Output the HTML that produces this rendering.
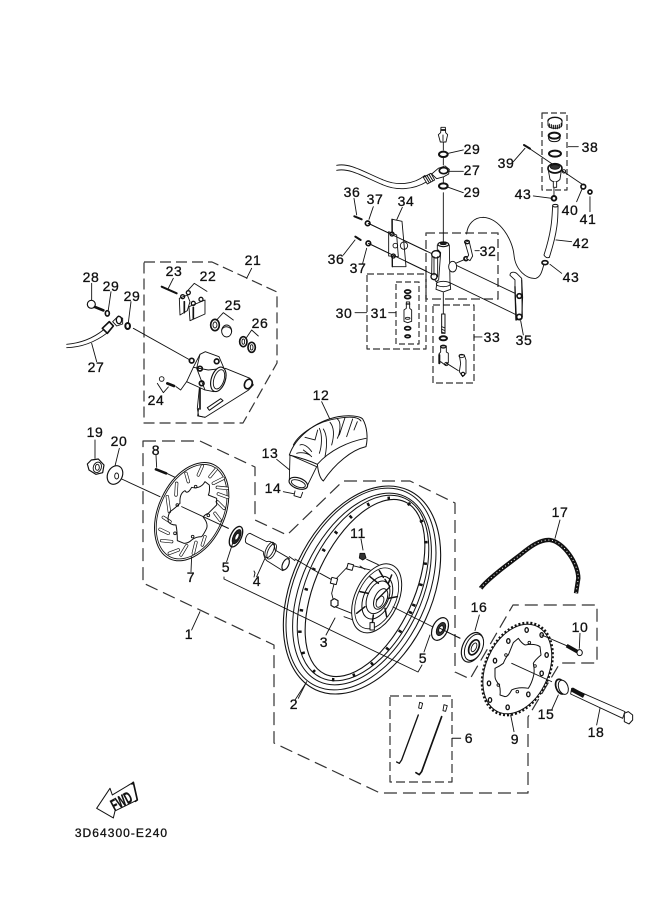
<!DOCTYPE html>
<html><head><meta charset="utf-8"><style>
html,body{margin:0;padding:0;background:#fff}
svg{display:block}
text{font-family:"Liberation Sans",sans-serif;font-size:14px;fill:#111;text-anchor:middle;letter-spacing:.6px;stroke:#111;stroke-width:.3}
</style></head><body>
<svg width="661" height="913" viewBox="0 0 661 913" xmlns="http://www.w3.org/2000/svg">
<rect width="661" height="913" fill="#fff"/>

<!-- dashed groups -->
<g fill="none" stroke="#333" stroke-width="1.2" stroke-linejoin="round">
<path d="M143,441 L200,441 L255,467 L255,520 L287,535 L343,481 L410,481 L455,503 L455,672 L470,679 L513,605 L597,605 L597,663 L560,663 L528,717 L528,793 L380,793 L274,743 L274,645 L143,583 Z" stroke-dasharray="13 6"/>
<path d="M144,262 L212,262 L277,292 L277,363 L243,423 L144,423 Z" stroke-dasharray="11 5"/>
<path d="M390,696 H452 V782 H390 Z" stroke-dasharray="9 4"/>
<path d="M426,233 H498 V299 H426 Z" stroke-dasharray="9 4" stroke="#555" stroke-width="1.5"/>
<path d="M367,274 H426 V349 H367 Z" stroke-dasharray="7 3"/>
<path d="M396,282 H419 V344 H396 Z" stroke-dasharray="6 3"/>
<path d="M433,305 H474 V383 H433 Z" stroke-dasharray="7 3"/>
<path d="M542,113 H567 V190 H542 Z" stroke-dasharray="6 3"/>
</g>

<!-- master cylinder area -->
<g transform="translate(330,100) scale(.3333)" fill="none" stroke="#111" stroke-width="2.7" stroke-linejoin="round" stroke-linecap="round">
<path d="M340,125V150M340,175V195M340,228V250M340,278V425M340,578V640"/>
<path d="M115,370 L555,580 M115,430 L560,645"/>
<!-- bolt top -->
<path fill="#fff" d="M333,82 L346,82 L347,98 L353,104 L348,126 L331,126 L325,104 L332,98Z"/>
<path d="M334,90H346" stroke-width="5"/><path d="M339,105V122"/>
<ellipse cx="340" cy="163" rx="13" ry="8" stroke-width="6"/>
<ellipse cx="340" cy="258" rx="13" ry="8" stroke-width="6"/>
<path d="M355,160L400,150M358,214H400M355,262L400,278"/>
<!-- hose -->
<path d="M20,196 C60,188 100,215 160,240 C200,257 250,255 285,226 M20,211 C60,203 100,230 160,255 C200,272 250,270 292,244"/>
<path fill="#fff" d="M280,232 L303,220 L314,240 L292,252Z"/>
<path d="M286,229L297,247M291,226L302,244M297,223L308,241" stroke-width="3"/>
<path fill="#fff" d="M305,222 L325,205 L345,198 L358,208 L356,222 L342,230 L320,236Z"/>
<ellipse cx="341" cy="212" rx="13" ry="9" stroke-width="5"/>
<!-- plate 34 -->
<path fill="#fff" d="M187,358 L216,364 L228,500 L187,500Z"/>
<path d="M186,358 L187,500" stroke-width="4"/>
<path d="M176,395 L200,405 L205,470 L176,468Z" fill="#fff"/>
<circle cx="186" cy="402" r="6" stroke-width="4"/><circle cx="190" cy="468" r="6" stroke-width="4"/>
<circle cx="196" cy="437" r="7"/><circle cx="222" cy="437" r="11"/>
<path d="M115,370 L290,454 M115,430 L290,514"/>
<path d="M73,349L95,358" stroke-width="6"/><path d="M76,410L92,420" stroke-width="6"/>
<circle cx="113" cy="370" r="7" stroke-width="5"/><circle cx="115" cy="430" r="7" stroke-width="5"/>
<path d="M72,295L80,345M130,320L117,358M217,322L200,360M75,420L40,465M110,445L98,490"/>
<!-- cylinder -->
<path fill="#fff" d="M322,435 L358,435 L360,545 L362,568 L340,576 L318,568 L321,545Z"/>
<ellipse cx="340" cy="433" rx="16" ry="7" stroke-width="3.500" fill="#fff"/>
<ellipse cx="340" cy="431" rx="9" ry="3" fill="#222"/>
<ellipse cx="340" cy="552" rx="21" ry="8" fill="#fff"/>
<ellipse cx="368" cy="500" rx="12" ry="16" fill="#fff"/>
<path fill="#fff" d="M306,465 L325,450 L332,458 L326,540 L318,545 L305,525Z"/>
<ellipse cx="318" cy="463" rx="13" ry="11" stroke-width="4" fill="#fff"/>
<ellipse cx="312" cy="530" rx="9" ry="9" stroke-width="4" fill="#fff"/>
<path d="M312,470V525M323,470V530" />
<!-- elbow 32 -->
<path d="M377,490 L405,478" /><circle cx="408" cy="476" r="6" stroke-width="5"/>
<path fill="#fff" d="M405,428 L417,422 L428,468 L420,482 L410,476 L416,465Z"/>
<ellipse cx="411" cy="426" rx="7" ry="5" stroke-width="4"/>
<path d="M410,402 C412,375 430,352 460,352 C510,355 548,420 552,465 C556,510 590,538 618,535 C632,530 636,515 642,492"/>
<path d="M435,452H448"/>
<!-- lever 35 -->
<path fill="#fff" d="M540,526 C540,515 552,515 560,520 L575,535 L578,592 L575,655 L560,660 L555,580 L555,540Z"/>
<path d="M555,560L558,660" stroke-width="4"/><path d="M575,540L577,650" stroke-width="3"/>
<circle cx="568" cy="588" r="7" stroke-width="5"/><circle cx="568" cy="651" r="8" stroke-width="5"/>
<path d="M572,662L580,705"/>
<!-- 30 31 -->
<path d="M75,638H110M176,638H198"/>
<ellipse cx="233" cy="575" rx="9" ry="5" stroke-width="5"/><ellipse cx="233" cy="591" rx="9" ry="5" stroke-width="5"/>
<path fill="#fff" d="M229,606 H239 V625 L245,630 V664 L233,668 L222,664 V630 L229,625Z"/>
<path d="M229,612H239" stroke-width="4"/><ellipse cx="233" cy="655" rx="7" ry="3"/>
<ellipse cx="233" cy="685" rx="9" ry="5" stroke-width="5"/><ellipse cx="233" cy="709" rx="8" ry="4" stroke-width="5"/>
<!-- 33 -->
<rect x="335" y="642" width="10" height="58" fill="#fff" stroke-width="3"/>
<path d="M335,680L345,684M335,688L345,692M335,696L345,700" />
<ellipse cx="340" cy="715" rx="11" ry="6" stroke-width="6"/>
<path fill="#fff" d="M332,738 H349 V756 L355,760 V788 L345,795 L332,785 L327,790 V762 L332,756Z"/>
<ellipse cx="340" cy="740" rx="8" ry="4" stroke-width="4"/><path d="M328,765V790" stroke-width="6"/>
<path d="M350,790 L385,812"/><circle cx="349" cy="792" r="5"/>
<path fill="#fff" d="M388,765 H403 L408,780 L408,820 L398,830 L388,815 L392,790Z"/>
<ellipse cx="395" cy="768" rx="8" ry="5"/><circle cx="399" cy="822" r="5" stroke-width="3.5"/>
<path d="M432,711H456M432,705V717" />
<!-- reservoir -->
<ellipse cx="675" cy="63" rx="21" ry="11" fill="#fff" stroke-width="4"/>
<path d="M654,63 V76 C660,88 690,88 696,76 V63" fill="#fff"/>
<path d="M658,72V82M664,74V84M670,76V86M676,76V86M682,76V86M688,74V84M694,70V80" stroke-width="3.5"/>
<ellipse cx="673" cy="107" rx="17" ry="9" stroke-width="6"/>
<path d="M656,107 V116 C660,128 686,128 690,116 V107" stroke-width="3"/>
<ellipse cx="675" cy="161" rx="18" ry="9" stroke-width="6"/>
<path d="M590,140 L760,255"/>
<path d="M582,135L600,146" stroke-width="6"/>
<path d="M550,185L585,145M740,305L757,265M780,290V335M715,140H745"/>
<path fill="#fff" d="M654,205 L660,238 C668,248 682,248 690,238 L695,205Z"/>
<ellipse cx="675" cy="205" rx="21" ry="14" fill="#fff" stroke-width="5"/>
<ellipse cx="675" cy="201" rx="14" ry="7" fill="#333"/>
<circle cx="702" cy="214" r="5"/>
<path d="M670,245 V262 H680 V245" fill="#fff"/>
<circle cx="760" cy="260" r="7" stroke-width="5"/><circle cx="780" cy="276" r="6" stroke-width="5"/>
<circle cx="672" cy="295" r="7" stroke-width="6"/><path d="M610,288L665,295M672,265V285"/>
<path d="M668,318 C666,345 668,385 642,465 M684,318 C684,350 685,390 658,472" />
<path d="M642,465 C645,472 652,475 658,472"/><ellipse cx="676" cy="317" rx="8" ry="4" stroke-width="3"/>
<path d="M678,420L725,425"/>
<ellipse cx="645" cy="488" rx="9" ry="6" stroke-width="5"/><path d="M660,493L695,520"/>
</g>

<!-- caliper -->
<g transform="translate(50,250) scale(.3333)" fill="none" stroke="#111" stroke-width="2.7" stroke-linejoin="round" stroke-linecap="round">
<ellipse cx="124" cy="163" rx="12" ry="12" fill="#fff" stroke-width="3.5"/>
<path d="M135,171L160,181" stroke-width="8"/><path d="M125,100L125,150"/>
<ellipse cx="172" cy="190" rx="6" ry="8" stroke-width="5"/><path d="M183,125L175,180"/>
<path d="M50,283 C85,280 125,268 160,240 M50,293 C90,292 130,280 170,250"/>
<path d="M157,235L172,250L190,228L178,215Z" fill="#fff" stroke-width="5"/>
<path d="M188,215 L205,198 L218,205 L218,222 L200,228Z" fill="#fff"/><ellipse cx="207" cy="210" rx="8" ry="11" stroke-width="4"/>
<ellipse cx="233" cy="228" rx="7" ry="9" stroke-width="6"/><path d="M243,155L235,218"/>
<path d="M250,235L420,330M125,280L140,335M605,55L590,85"/>
<!-- pads -->
<path d="M335,110L380,130" stroke-width="6"/><path d="M370,85L355,115"/>
<path fill="#fff" d="M388,145 L412,135 L420,155 L412,182 L390,195Z"/>
<circle cx="398" cy="140" r="6" stroke-width="4"/><circle cx="415" cy="128" r="6" stroke-width="4"/>
<path d="M403,155V188" stroke-width="5"/>
<path fill="#fff" d="M417,170 L465,150 L465,192 L420,212Z"/>
<circle cx="430" cy="160" r="6" stroke-width="4"/><circle cx="453" cy="148" r="6" stroke-width="4"/>
<path d="M430,172V205" stroke-width="5"/>
<path d="M413,122 L433,100 L471,124"/>
<ellipse cx="495" cy="225" rx="13" ry="17" stroke-width="5"/><ellipse cx="495" cy="225" rx="6" ry="9"/>
<ellipse cx="530" cy="243" rx="15" ry="18" fill="#fff"/><path d="M515,240 C520,225 545,228 545,245" stroke-width="3"/>
<path d="M500,210 L520,188 L550,210"/>
<ellipse cx="580" cy="275" rx="11" ry="15" stroke-width="5"/><ellipse cx="580" cy="275" rx="4" ry="8"/>
<ellipse cx="605" cy="292" rx="11" ry="15" stroke-width="5"/><ellipse cx="605" cy="292" rx="4" ry="8"/>
<path d="M590,262 L605,240 L625,258"/>
</g>
<g transform="translate(150,340) scale(.3333)" fill="none" stroke="#111" stroke-width="2.7" stroke-linejoin="round" stroke-linecap="round">
<path fill="#fff" d="M226,85 L300,115 L310,135 L296,150 L165,232 L146,228 L142,205 L148,145Z"/>
<path fill="#fff" d="M150,43 L166,35 L207,50 L222,85 L192,155 L165,150 L110,125 L130,82Z"/>
<path d="M150,43 L140,85 L165,150 M130,82 L175,90 L222,85"/>
<ellipse cx="205" cy="118" rx="21" ry="38" transform="rotate(18 205 118)" fill="#fff" stroke-width="3.5"/>
<ellipse cx="207" cy="118" rx="15" ry="30" transform="rotate(18 207 118)"/>
<ellipse cx="295" cy="132" rx="11" ry="15" transform="rotate(25 295 132)" stroke-width="5" fill="#fff"/>
<circle cx="125" cy="62" r="7" stroke-width="5"/><circle cx="200" cy="64" r="7" stroke-width="5"/>
<circle cx="150" cy="86" r="7" stroke-width="5"/><circle cx="155" cy="130" r="7" stroke-width="5"/>
<path d="M150,145V207" stroke-width="5"/>
<path d="M146,205 L143,228 L165,232"/>
<path d="M172,203 L212,176 L219,182 L178,211Z" stroke-width="3"/>
<circle cx="35" cy="117" r="7" fill="#fff"/><path d="M52,130L72,138" stroke-width="8"/>
<path d="M22,130 L40,158 L55,141M78,140 L92,150 L110,125"/>
</g>

<!-- left group: disc and misc -->
<g transform="translate(80,380) scale(.3333)" fill="none" stroke="#111" stroke-width="2.7" stroke-linejoin="round" stroke-linecap="round">
<path fill="#fff" d="M34,240 L55,237 L72,255 L68,278 L48,283 L27,270 L22,252Z" stroke-width="3.5"/>
<ellipse cx="52" cy="262" rx="12" ry="16" transform="rotate(20 52 262)"/><ellipse cx="52" cy="262" rx="6" ry="9"/>
<path d="M45,180V235M118,205L105,258"/>
<ellipse cx="105" cy="285" rx="22" ry="29" transform="rotate(25 105 285)" stroke-width="3.5" fill="#fff"/>
<ellipse cx="110" cy="288" rx="6" ry="9"/>
<path d="M125,297L240,350M305,380L445,445"/>
<path d="M228,225L230,262"/><path d="M228,268L258,280" stroke-width="8"/><path d="M260,280L285,292"/>
<!-- disc -->
<ellipse cx="335" cy="395" rx="99" ry="156" transform="rotate(25 335 395)" fill="#fff" stroke-width="3"/>
<ellipse cx="335" cy="395" rx="94" ry="150" transform="rotate(25 335 395)" stroke-width="2.5"/>
<path stroke-width="10" d="M367,258L355,285M408,268L390,290M430,295L400,310M442,325L412,322M443,352L415,342M432,385L412,365M420,420L405,400M375,470L367,495M348,487L340,520M320,497L303,525M295,510L268,520M275,485L245,482M265,460L240,448M270,425L250,412M268,395L262,350M288,345L290,310M325,305L318,280"/>
<path stroke="#fff" stroke-width="6" d="M367,258L355,285M408,268L390,290M430,295L400,310M442,325L412,322M443,352L415,342M432,385L412,365M420,420L405,400M375,470L367,495M348,487L340,520M320,497L303,525M295,510L268,520M275,485L245,482M265,460L240,448M270,425L250,412M268,395L262,350M288,345L290,310M325,305L318,280"/>
<path stroke-width="3" d="M300,370 Q298,340 315,332 Q322,345 335,322 Q345,325 355,322 Q368,318 375,305 L388,315 Q390,335 385,345 L410,355 L410,375 Q395,390 385,400 Q372,405 370,412 Q385,430 380,445 Q372,462 365,470 Q348,470 335,480 Q325,490 312,490 L292,482 Q292,455 288,435 Q272,435 265,425 Q262,410 270,395 Q285,385 300,370Z"/>
<circle cx="292" cy="375" r="4"/><circle cx="347" cy="320" r="4"/><circle cx="385" cy="406" r="4"/><circle cx="338" cy="470" r="4"/><circle cx="285" cy="460" r="4"/>
<path d="M305,380L445,445"/>
<!-- bearing -->
<ellipse cx="468" cy="470" rx="16" ry="33" transform="rotate(25 468 470)" fill="#fff" stroke-width="4"/>
<ellipse cx="470" cy="470" rx="10" ry="23" transform="rotate(25 470 470)" fill="#222"/>
<ellipse cx="471" cy="470" rx="5" ry="11" transform="rotate(25 471 470)" fill="#fff"/>
<path d="M458,490L440,545"/>
<!-- collar -->
<path fill="#fff" d="M510,460 L560,485 C575,480 585,495 585,510 L628,535 C625,545 618,570 608,572 L565,545 C555,540 550,525 550,515 L500,490 C492,485 498,462 510,460Z"/>
<ellipse cx="617" cy="553" rx="9" ry="18" transform="rotate(25 617 553)" stroke-width="3.5" fill="#fff"/>
<ellipse cx="569" cy="510" rx="11" ry="25" transform="rotate(25 569 510)" />
<ellipse cx="575" cy="514" rx="11" ry="25" transform="rotate(25 575 514)" />
<path d="M555,535L530,590M628,530L645,542"/>
<path d="M335,530L333,575M360,695L335,750"/>
<path d="M725,65L750,118M590,238L635,275M610,335L660,345"/>
</g>

<!-- tyre -->
<g transform="translate(280,405) scale(.3333)" fill="none" stroke="#111" stroke-width="2.7" stroke-linejoin="round" stroke-linecap="round">
<path d="M28,225 C22,238 65,265 82,242 L110,185 L30,150 Z" fill="#fff"/>
<ellipse cx="55" cy="235" rx="29" ry="16" transform="rotate(20 55 235)" fill="#fff" stroke-width="3.5"/>
<ellipse cx="55" cy="236" rx="22" ry="10" transform="rotate(20 55 236)"/>
<path d="M45,258 L42,272 L62,278 L68,262" fill="#fff"/>
<path fill="#fff" d="M28,150 C45,100 100,50 175,35 C205,30 240,32 248,42 C262,65 264,100 258,125 C215,135 165,175 130,228 C122,222 115,205 112,178 C95,170 60,158 28,150Z" stroke-width="3"/>
<path d="M40,120 C55,90 110,48 175,40 C210,34 235,36 243,48"/>
<path d="M75,97 L105,105 L113,75 M118,70 C128,90 125,125 118,145 M130,72 C145,95 140,130 135,155 M150,52 C165,70 162,95 155,120 M172,42 C185,50 180,85 172,100 M195,38 L178,90 M218,42 L200,95 M232,50 L222,75"/>
<path d="M60,120 C70,115 85,125 95,140 M70,135 L90,150 M50,145 C65,140 85,145 95,155 M112,178 C150,135 205,110 258,100"/>
</g>

<!-- rim and hub -->
<g fill="none" stroke="#111" stroke-width="1">
<ellipse cx="362" cy="590" rx="70" ry="110" transform="rotate(25 362 590)" stroke-width="1.1"/>
<ellipse cx="361" cy="589" rx="66" ry="107" transform="rotate(25 361 589)"/>
<ellipse cx="362" cy="589" rx="60" ry="102" transform="rotate(25 362 589)"/>
<ellipse cx="363" cy="588" rx="56" ry="99" transform="rotate(25 363 588)"/>
<ellipse cx="365" cy="588" rx="49" ry="95" transform="rotate(25 365 588)" stroke-width="1.1"/>
<ellipse cx="363" cy="589" rx="53" ry="97" transform="rotate(25 363 589)" stroke-width="3.5" stroke-dasharray="2.500 19"/>
</g>
<g transform="translate(320,550) scale(.3333)" fill="none" stroke="#111" stroke-width="2.7" stroke-linejoin="round" stroke-linecap="round">
<path d="M85,48 L45,90 L35,130 L45,170 L95,190" />
<path d="M90,45 L150,60 M72,200 L100,210"/>
<ellipse cx="170" cy="145" rx="65" ry="110" transform="rotate(25 170 145)" fill="#fff" stroke-width="3"/>
<ellipse cx="170" cy="145" rx="57" ry="97" transform="rotate(25 170 145)" stroke-width="2.5"/>
<ellipse cx="172" cy="143" rx="40" ry="68" transform="rotate(25 172 143)" stroke-width="3"/>
<ellipse cx="174" cy="142" rx="31" ry="52" transform="rotate(25 174 142)" stroke-width="3"/>
<ellipse cx="182" cy="147" rx="18" ry="33" transform="rotate(25 182 147)" fill="#fff" stroke-width="3"/>
<ellipse cx="180" cy="155" rx="10" ry="18" transform="rotate(25 180 155)" fill="#fff"/>
<path d="M150,80L175,100M178,62L190,82M215,75L205,100M120,125L145,130M232,140L205,145M110,190L135,170M155,235L160,195M200,200L195,175" stroke-width="4.500"/>
<rect x="150" y="218" width="13" height="22" fill="#fff" stroke-width="3"/>
<path d="M195,88 L210,110 L170,150" stroke-width="4"/>
<rect x="82" y="42" width="17" height="17" fill="#fff" transform="rotate(15 90 50)" stroke-width="3"/>
<rect x="33" y="84" width="18" height="18" fill="#fff" transform="rotate(15 42 93)" stroke-width="3"/>
<path d="M43,146 L54,152 L54,166 L43,172 L33,166 L33,152Z" fill="#fff" stroke-width="3.5"/>
<path d="M120,10 L134,10 L138,24 L128,30 L118,24Z" fill="#333"/>
<path d="M140,28L175,44M0,70L33,88M120,48L135,58" />
</g>

<!-- right side parts and lines -->
<g fill="none" stroke="#111" stroke-width=".9" stroke-linecap="round" stroke-linejoin="round">
<path d="M224,579 V577 M224,579 L418,672 L422,665"/>
<path d="M254,571 L255,573 L254,577"/>
<path d="M295,559L319,573"/>
<path d="M393,607L433,627M447,632L460,638"/>
<path d="M361,539L363,550"/>
<path d="M335,618L326,635M306,683L295,700"/>
<path d="M430,635L424,652"/>
<ellipse cx="440" cy="629" rx="7.5" ry="12" transform="rotate(25 440 629)" fill="#fff" stroke-width="1.2"/>
<ellipse cx="441" cy="629" rx="4" ry="7" transform="rotate(25 441 629)" fill="#333"/>
<ellipse cx="441" cy="629" rx="2" ry="3.5" transform="rotate(25 441 629)" fill="#fff"/>
</g>

<!-- sprocket, chain, seal -->
<g transform="translate(440,500) scale(.3333)" fill="none" stroke="#111" stroke-width="2.7" stroke-linejoin="round" stroke-linecap="round">
<path d="M122,265 C140,240 200,195 240,165 C270,140 300,118 330,120 C370,125 415,190 415,235 L408,280" stroke-width="13" stroke-linecap="butt"/>
<path d="M122,265 C140,240 200,195 240,165 C270,140 300,118 330,120 C370,125 415,190 415,235 L408,280" stroke="#fff" stroke-width="3" stroke-dasharray="3 8" stroke-linecap="butt"/>
<path d="M360,60L345,115"/>
<ellipse cx="232" cy="507" rx="96" ry="145" transform="rotate(24 232 507)" stroke-width="8" stroke-dasharray="6 6" stroke-linecap="butt"/>
<ellipse cx="232" cy="507" rx="94" ry="141" transform="rotate(24 232 507)" fill="#fff" stroke-width="3"/>
<path stroke-width="3" d="M235,415 Q245,430 255,435 Q285,430 300,440 L303,465 Q285,480 280,490 Q285,515 280,530 Q275,550 265,565 Q235,560 215,570 Q205,590 195,590 L180,585 Q182,570 178,555 Q165,540 165,530 L165,505 Q180,498 190,490 Q198,470 205,465 Q215,440 220,428Z"/>
<g stroke-width="4">
<ellipse cx="260" cy="390" rx="5" ry="7"/><ellipse cx="305" cy="405" rx="5" ry="7"/><ellipse cx="205" cy="423" rx="5" ry="7"/><ellipse cx="320" cy="465" rx="5" ry="7"/><ellipse cx="165" cy="482" rx="5" ry="7"/><ellipse cx="305" cy="520" rx="5" ry="7"/><ellipse cx="147" cy="550" rx="5" ry="7"/><ellipse cx="265" cy="583" rx="5" ry="7"/><ellipse cx="150" cy="600" rx="5" ry="7"/><ellipse cx="203" cy="622" rx="5" ry="7"/>
</g>
<circle cx="268" cy="428" r="4"/><circle cx="198" cy="465" r="4"/><circle cx="285" cy="498" r="4"/><circle cx="175" cy="555" r="4"/><circle cx="232" cy="575" r="4"/>
<path d="M215,490L335,545"/>
<path d="M305,405L380,437"/><path d="M380,437L412,455" stroke-width="11" stroke-linecap="butt"/>
<ellipse cx="419" cy="458" rx="8" ry="9" fill="#fff" stroke-width="3"/>
<path d="M420,400L418,445"/>
<!-- seal -->
<ellipse cx="97" cy="442" rx="29" ry="47" transform="rotate(25 97 442)" fill="#fff" stroke-width="3.5"/>
<ellipse cx="102" cy="442" rx="25" ry="42" transform="rotate(25 102 442)" fill="#fff" stroke-width="3"/>
<ellipse cx="102" cy="442" rx="14" ry="24" transform="rotate(25 102 442)" stroke-width="5"/>
<ellipse cx="102" cy="442" rx="7" ry="14" transform="rotate(25 102 442)"/>
<path d="M118,345L105,392"/><path d="M0,385L60,415"/>
<!-- spacer 15 -->
<ellipse cx="362" cy="560" rx="14" ry="23" transform="rotate(-20 362 560)" fill="#fff" stroke-width="5"/>
<ellipse cx="370" cy="562" rx="14" ry="22" transform="rotate(-20 370 562)" fill="#fff" stroke-width="3"/>
<path d="M355,585L335,630"/>
<!-- axle 18 -->
<path fill="#fff" d="M395,565 L555,635 L548,655 L392,582Z"/>
<path d="M395,568L432,588" stroke-width="13" stroke-linecap="butt"/>
<path fill="#fff" stroke-width="3" d="M553,640 L565,635 L578,645 L578,660 L567,672 L553,665Z"/>
<path d="M480,625L470,675M212,645L222,695"/>
<path d="M37,715H62" stroke-width="3"/>
</g>

<!-- spokes + FWD -->
<g transform="translate(60,680) scale(.3333)" fill="none" stroke="#111" stroke-width="2.7" stroke-linejoin="round" stroke-linecap="round">
<path d="M1075,105L1025,240L1018,250L1010,246" stroke-width="4"/>
<path d="M1145,110L1085,275L1078,284L1068,278" stroke-width="5"/>
<path d="M1079,67 L1088,70 L1084,86 L1076,84Z" /><path d="M1152,74 L1162,77 L1157,94 L1149,92Z"/>
<path d="M740,5L715,55"/>
<path fill="#fff" stroke-width="3" d="M110,385 L150,325 L157,345 L220,307 L232,360 L165,393 L160,414Z"/>
<path d="M216,312 L220,307 L232,360 L226,364" stroke-width="5"/>
</g>
<text transform="translate(124,806) rotate(-28) scale(.8,1.35)" style="font-size:12px;font-weight:bold;letter-spacing:0">FWD</text>

<!-- labels -->
<g>
<text x="472" y="154">29</text><text x="472" y="175">27</text><text x="472" y="197">29</text>
<text x="352" y="197">36</text><text x="375" y="204">37</text><text x="406" y="206">34</text>
<text x="590" y="152">38</text><text x="506" y="168">39</text><text x="523" y="199">43</text>
<text x="570" y="215">40</text><text x="588" y="224">41</text><text x="581" y="248">42</text><text x="571" y="282">43</text>
<text x="488" y="256">32</text><text x="336" y="264">36</text><text x="358" y="273">37</text>
<text x="344" y="318">30</text><text x="379" y="318">31</text><text x="492" y="342">33</text><text x="524" y="345">35</text>
<text x="253" y="265">21</text><text x="208" y="281">22</text><text x="174" y="276">23</text>
<text x="233" y="310">25</text><text x="260" y="328">26</text><text x="91" y="282">28</text><text x="111" y="291">29</text><text x="132" y="301">29</text>
<text x="96" y="372">27</text><text x="156" y="405">24</text>
<text x="321" y="400">12</text><text x="270" y="458">13</text><text x="273" y="493">14</text>
<text x="95" y="437">19</text><text x="119" y="446">20</text><text x="156" y="455">8</text>
<text x="191" y="582">7</text><text x="226" y="572">5</text><text x="257" y="586">4</text><text x="189" y="639">1</text>
<text x="358" y="538">11</text><text x="324" y="647">3</text><text x="294" y="709">2</text><text x="423" y="663">5</text>
<text x="479" y="612">16</text><text x="560" y="517">17</text><text x="580" y="632">10</text>
<text x="546" y="719">15</text><text x="596" y="737">18</text><text x="515" y="744">9</text><text x="469" y="743">6</text>
<text x="121.500" y="837" style="font-size:12px;letter-spacing:1.05px">3D64300-E240</text>
</g>
</svg>
</body></html>
